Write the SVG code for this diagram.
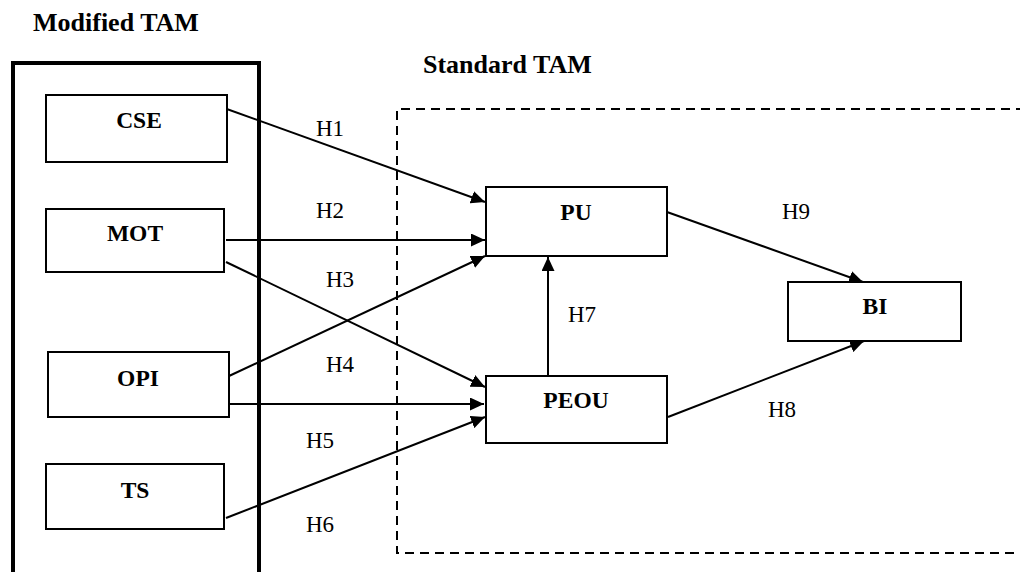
<svg xmlns="http://www.w3.org/2000/svg" width="1020" height="572" viewBox="0 0 1020 572">
<style>
.title{font-family:"Liberation Serif","Times New Roman",serif;font-weight:bold;font-size:26px;fill:#000}
.lbl{font-family:"Liberation Serif","Times New Roman",serif;font-weight:bold;font-size:23.5px;fill:#000;text-anchor:middle}
.h{font-family:"Liberation Serif","Times New Roman",serif;font-size:23px;fill:#000}
.box{fill:#fff;stroke:#000;stroke-width:2}
.conn{stroke:#000;stroke-width:2;fill:none}
</style>
<defs>
<marker id="arr" markerUnits="userSpaceOnUse" markerWidth="15" markerHeight="13" refX="14" refY="6.5" orient="auto">
<path d="M0,0 L14,6.5 L0,13 z" fill="#000"/>
</marker>
</defs>
<rect width="1020" height="572" fill="#fff"/>
<g id="modified-tam">
<text class="title" x="33" y="31">Modified TAM</text>
<rect x="13" y="63" width="246" height="600" fill="none" stroke="#000" stroke-width="4"/>
</g>
<g id="standard-tam">
<text class="title" x="423" y="73">Standard TAM</text>
<path d="M1025,109 H397 V553 H1025" fill="none" stroke="#000" stroke-width="2" stroke-dasharray="9 6"/>
</g>
<g id="connectors">
<line class="conn" x1="224" y1="108" x2="485" y2="202" marker-end="url(#arr)"/>
<line class="conn" x1="226" y1="240" x2="485" y2="240" marker-end="url(#arr)"/>
<line class="conn" x1="229" y1="376" x2="485" y2="256" marker-end="url(#arr)"/>
<line class="conn" x1="226" y1="262" x2="485" y2="387" marker-end="url(#arr)"/>
<line class="conn" x1="223" y1="404" x2="484" y2="404" marker-end="url(#arr)"/>
<line class="conn" x1="226" y1="518" x2="485" y2="417" marker-end="url(#arr)"/>
<line class="conn" x1="548" y1="376" x2="548" y2="257" stroke-width="1.6" marker-end="url(#arr)"/>
<line class="conn" x1="667" y1="212" x2="863" y2="282" marker-end="url(#arr)"/>
<line class="conn" x1="668" y1="417" x2="864" y2="341" marker-end="url(#arr)"/>
<text class="h" x="316" y="136">H1</text>
<text class="h" x="316" y="218">H2</text>
<text class="h" x="326" y="287">H3</text>
<text class="h" x="326" y="372">H4</text>
<text class="h" x="306" y="448">H5</text>
<text class="h" x="306" y="532">H6</text>
<text class="h" x="568" y="322">H7</text>
<text class="h" x="768" y="417">H8</text>
<text class="h" x="782" y="219">H9</text>
</g>
<g id="node-cse"><rect class="box" x="46" y="95" width="181" height="67"/><text class="lbl" x="139" y="128">CSE</text></g>
<g id="node-mot"><rect class="box" x="46" y="209" width="178" height="63"/><text class="lbl" x="135" y="241">MOT</text></g>
<g id="node-opi"><rect class="box" x="48" y="352" width="181" height="65"/><text class="lbl" x="138" y="386">OPI</text></g>
<g id="node-ts"><rect class="box" x="46" y="464" width="178" height="65"/><text class="lbl" x="135" y="498">TS</text></g>
<g id="node-pu"><rect class="box" x="486" y="187" width="181" height="69"/><text class="lbl" x="576" y="220">PU</text></g>
<g id="node-peou"><rect class="box" x="486" y="376" width="181" height="67"/><text class="lbl" x="576" y="408">PEOU</text></g>
<g id="node-bi"><rect class="box" x="788" y="282" width="173" height="59"/><text class="lbl" x="875" y="314">BI</text></g>
</svg>
